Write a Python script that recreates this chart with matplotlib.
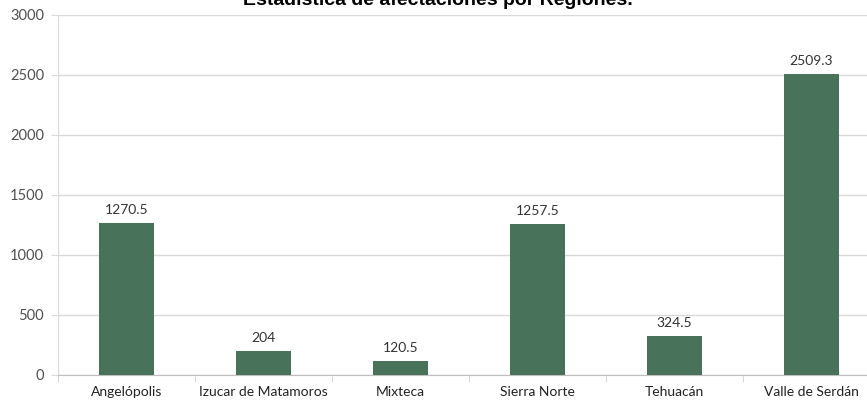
import matplotlib
matplotlib.use("Agg")
import matplotlib.pyplot as plt
import numpy as np

regions = ["Angelópolis", "Izucar de Matamoros", "Mixteca", "Sierra Norte",
           "Tehuacán", "Valle de Serdán"]
values = [1270.5, 204, 120.5, 1257.5, 324.5, 2509.3]
value_labels = ["1270.5", "204", "120.5", "1257.5", "324.5", "2509.3"]
yticks = [0, 500, 1000, 1500, 2000, 2500, 3000]

plt.rcParams['font.family'] = ['Lato', 'DejaVu Sans']

fig = plt.figure(figsize=(8.67, 4.05), dpi=100)
# axes run a little past the right edge, like the cropped original
ax = fig.add_axes([58/867, 30/405, 822/867, 360/405])

x = np.arange(len(regions))
bars = ax.bar(x, values, width=0.4, color="#48735a", zorder=3)

for b, lab in zip(bars, value_labels):
    ax.annotate(lab, (b.get_x() + b.get_width()/2, b.get_height()),
                xytext=(0, 5), textcoords="offset points",
                ha="center", va="bottom", fontsize=10, color="#333333")

ax.set_xlim(-0.5, len(regions) - 0.5)
ax.set_ylim(0, 3000)
ax.set_yticks(yticks)
ax.set_yticklabels([str(t) for t in yticks], fontsize=10.5, color="#505050")
ax.set_xticks(x)
ax.set_xticklabels(regions, fontsize=10, color="#222222")
ax.set_xticks(np.arange(-0.5, len(regions)), minor=True)

ax.tick_params(axis="x", which="major", length=0, pad=8)
ax.tick_params(axis="x", which="minor", length=5, color="#d0d0d0")
ax.tick_params(axis="y", length=5, color="#d9d9d9", pad=5)

ax.grid(axis="y", color="#d9d9d9", linewidth=1, zorder=0)
for s in ["top", "right"]:
    ax.spines[s].set_visible(False)
ax.spines["left"].set_color("#d9d9d9")
ax.spines["bottom"].set_color("#bfbfbf")

# title sits mostly above the visible area
fig.text(438/867, 1 - 5/405, "Estadística de afectaciones por Regiones.",
         ha="center", va="baseline", fontsize=14, fontweight="bold",
         family="Liberation Sans")

fig.savefig("out.png", dpi=100)
